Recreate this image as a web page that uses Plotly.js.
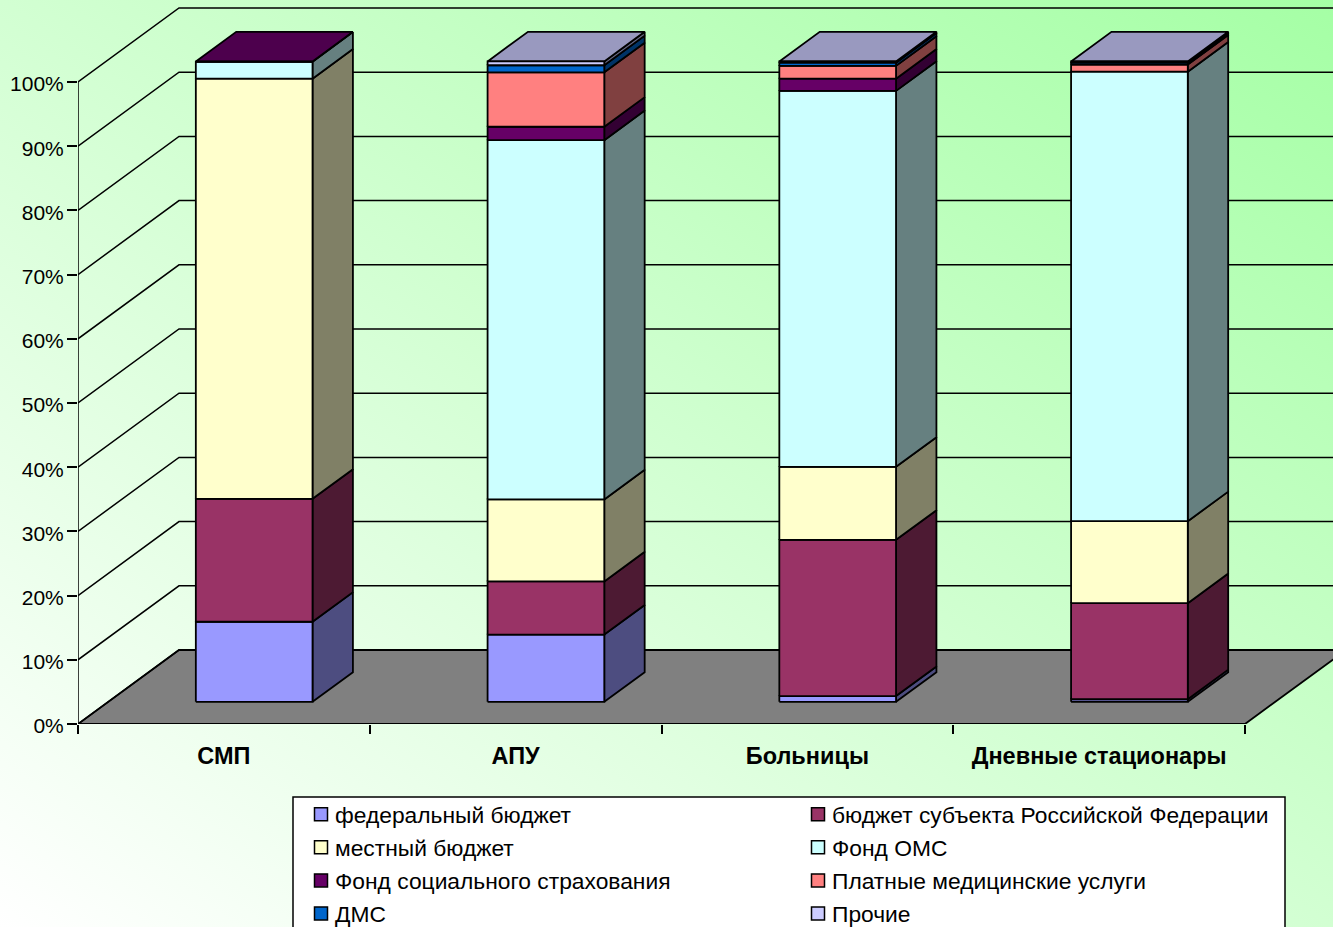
<!DOCTYPE html>
<html><head><meta charset="utf-8">
<script src="https://cdn.plot.ly/plotly-3.0.1.min.js"></script>
<style>
html,body{margin:0;padding:0;width:1333px;height:927px;overflow:hidden;
background:linear-gradient(to top right,#ffffff 0%,#a5ffa5 100%);}
#chart{width:1333px;height:950px;}
.legendsymbols{transform:translateX(6px);}
</style></head><body><div id="chart"></div>
<script>
const categories = ['СМП','АПУ','Больницы','Дневные стационары'];
const seriesNames = ['федеральный бюджет','бюджет субъекта Российской Федерации','местный бюджет','Фонд ОМС','Фонд социального страхования','Платные медицинские услуги','ДМС','Прочие'];
const federal  = [12.5, 10.5,  0.9,  0.4];
const regional = [19.2,  8.3, 24.4, 15.0];
const local    = [65.6, 12.8, 11.4, 12.8];
const oms      = [ 2.65,56.1, 58.7, 70.2];
const social   = [ 0.05, 2.1,  1.9,  0];
const paid     = [ 0,    8.5,  2.0,  1.1];
const dms      = [ 0,    1.1,  0.5,  0.3];
const other    = [ 0,    0.6,  0.2,  0.2];
const seriesValues = [federal,regional,local,oms,social,paid,dms,other];
const frontColors = ['#9999FF','#993366','#FFFFCC','#CCFFFF','#660066','#FF8080','#0066CC','#CCCCFF'];
const sideColors  = ['#4D4D80','#4D1A33','#808066','#668080','#330033','#804040','#003366','#666680'];
const topColors   = ['#7373BF','#73264D','#BFBF99','#99BFBF','#4D004D','#BF6060','#004D99','#9999BF'];
const percentTicks = [0,10,20,30,40,50,60,70,80,90,100];

const W=1333,H=950,L=78,B0=724,unitX=291.75,unitY=6.42;
const xMax=(W-L)/unitX, yMax=B0/unitY;
const DX=101/unitX, DY=74/unitY;
const barL=0.30, barR=0.70, dFront=0.30, dBack=0.70, barScale=0.9975;
const P=(cat,off,val,d)=>[cat+off+d*DX, val*barScale+d*DY];
const line={color:'#000',width:1.8};
const traces=[];
function poly(pts,color,extra){
  const x=[],y=[];
  pts.forEach(p=>{ if(p){x.push(p[0]);y.push(p[1]);} else {x.push(null);y.push(null);} });
  return Object.assign({type:'scatter',mode:'lines',x,y,fill:'toself',fillcolor:color,line,hoverinfo:'skip',showlegend:false,cliponaxis:false},extra||{});
}
// floor
traces.push(poly([[0,0],[categories.length,0],[categories.length+DX,DY],[DX,DY],[0,0]],'#808080'));
// walls: grid lines
const gx=[],gy=[];
percentTicks.forEach(t=>{gx.push(0,DX,xMax,null);gy.push(t,t+DY,t+DY,null);});
gx.push(0,0,null);gy.push(0,100,null);
traces.push({type:'scatter',mode:'lines',x:gx,y:gy,line:{color:'#000',width:1.5},hoverinfo:'skip',showlegend:false,cliponaxis:false});
// bars
const cum=categories.map(()=>0);
const topIdx=categories.map((c,i)=>{let k=-1;seriesValues.forEach((s,j)=>{if(s[i]>0)k=j;});return k;});
seriesValues.forEach((vals,s)=>{
  const front=[],side=[],top=[];
  vals.forEach((v,c)=>{
    if(v<=0) return;
    const a=cum[c],b=a+v; cum[c]=b;
    front.push(P(c,barL,a,dFront),P(c,barR,a,dFront),P(c,barR,b,dFront),P(c,barL,b,dFront),P(c,barL,a,dFront),null);
    side.push(P(c,barR,a,dFront),P(c,barR,a,dBack),P(c,barR,b,dBack),P(c,barR,b,dFront),P(c,barR,a,dFront),null);
    if(topIdx[c]===s) top.push(P(c,barL,b,dFront),P(c,barR,b,dFront),P(c,barR,b,dBack),P(c,barL,b,dBack),P(c,barL,b,dFront),null);
  });
  traces.push(poly(side,sideColors[s],{name:seriesNames[s]+' (side)'}));
  if(top.length) traces.push(poly(top,topColors[s],{name:seriesNames[s]+' (top)'}));
  traces.push(poly(front,frontColors[s],{name:seriesNames[s]}));
});
// x tick marks axis
traces.push({type:'scatter',mode:'lines',x:[null],y:[null],xaxis:'x2',showlegend:false,hoverinfo:'skip'});
// legend keys: two columns
seriesNames.forEach((n,i)=>{
  traces.push({type:'scatter',mode:'markers',x:[null],y:[null],name:n,
    legend:i%2===0?'legend':'legend2',legendgroup:'g'+i,
    marker:{symbol:'square',size:13,color:frontColors[i],line:{color:'#000',width:1.5}},hoverinfo:'skip'});
});
const fam='"Liberation Sans",Arial,sans-serif';
const legendFont={family:fam,size:22.8,color:'#000'};
const yFont={family:fam,size:21,color:'#000'};
const xFont={family:fam,size:23.5,color:'#000'};
const legendBase=(px)=>({xref:'container',yref:'container',x:px/W,y:1-793/H,xanchor:'left',yanchor:'top',
  bgcolor:'rgba(0,0,0,0)',borderwidth:0,font:legendFont,indentation:-6,tracegroupgap:0.4,itemclick:false,itemdoubleclick:false,orientation:'v'});
const layout={
  width:W,height:H,margin:{l:L,r:0,t:0,b:H-B0,autoexpand:false,pad:0},
  paper_bgcolor:'rgba(0,0,0,0)',plot_bgcolor:'rgba(0,0,0,0)',
  font:yFont,
  xaxis:{range:[0,xMax],tickvals:categories.map((c,i)=>i+0.5),ticktext:categories.map(c=>'<b>'+c+'</b>'),
    ticks:'',showgrid:false,zeroline:false,showline:false,ticklabelstandoff:15,tickfont:xFont,fixedrange:true},
  xaxis2:{range:[0,xMax],overlaying:'x',anchor:'y',side:'bottom',tickvals:categories.map((c,i)=>i).concat([categories.length]),
    ticks:'outside',ticklen:9,tickwidth:1.5,tickcolor:'#000',showticklabels:false,showgrid:false,zeroline:false,showline:false,fixedrange:true},
  yaxis:{range:[0,yMax],tickvals:percentTicks,ticktext:percentTicks.map(t=>t+'%'),ticks:'outside',ticklen:10,tickwidth:1.5,tickcolor:'#000',
    ticklabelshift:2,ticklabelstandoff:-1,showgrid:false,zeroline:false,showline:false,tickfont:yFont,fixedrange:true},
  legend:legendBase(301),legend2:legendBase(798),
  showlegend:true,
  shapes:[{type:'rect',xref:'paper',yref:'paper',x0:(293-L)/(W-L),x1:(1285-L)/(W-L),y0:1-940/B0,y1:1-797/B0,
    fillcolor:'#fff',line:{color:'#000',width:1.5},layer:'above'}]
};
Plotly.newPlot('chart',traces,layout,{displayModeBar:false});
</script></body></html>
